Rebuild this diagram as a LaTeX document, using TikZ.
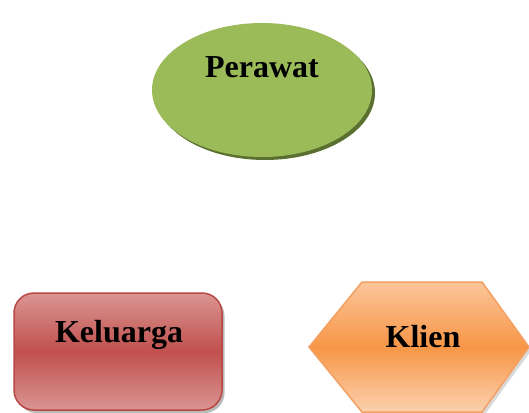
\documentclass[tikz,border=0pt]{standalone}
\usepackage{fontspec}
\setmainfont{Liberation Serif}
\usetikzlibrary{shapes.geometric,shadows}
\definecolor{grn}{HTML}{9BBB59}
\definecolor{grnshadow}{HTML}{5A7030}
\definecolor{redmid}{HTML}{C0504D}
\definecolor{redlight}{HTML}{DA9593}
\definecolor{redborder}{HTML}{B94744}
\definecolor{orgmid}{HTML}{F79646}
\definecolor{orglight}{HTML}{FBC59A}
\definecolor{orgborder}{HTML}{F2A063}
\begin{document}
\begin{tikzpicture}[x=1pt,y=-1pt,
  lbl/.style={font=\fontsize{32}{34}\selectfont\bfseries, text=black, inner sep=0pt},
  ellshape/.style={ellipse, fill=grn, draw=none, minimum width=220pt, minimum height=134pt, inner sep=0pt},
  boxshape/.style={rounded corners=20pt, top color=redlight, bottom color=redlight, middle color=redmid, draw=redborder, line width=1.5pt,
     drop shadow={shadow xshift=2.5pt, shadow yshift=-3pt, opacity=0.45, fill=black!60}},
  hexshape/.style={top color=orglight, bottom color=orglight!80!white, middle color=orgmid, draw=orgborder, line width=1.5pt, line join=miter,
     drop shadow={shadow xshift=2.5pt, shadow yshift=-3pt, opacity=0.3, fill=black!50}}
]
\useasboundingbox (0,0) rectangle (529,412);
% Perawat ellipse with its shadow
\node[ellshape, fill=grnshadow] (perawatshadow) at (265,93) {};
\node[ellshape] (perawat) at (262,90) {};
\node[lbl] (perawattext) at (262,67) {Perawat};
% Keluarga box
\draw[boxshape] (14,293) rectangle (222,410);
\node[lbl] (keluarga) at (119,335) {Keluarga};
% Klien hexagon
\coordinate (hl) at (309,347);
\coordinate (htl) at (362,282);
\coordinate (htr) at (482,282);
\coordinate (hr) at (529,347);
\coordinate (hbr) at (482,412);
\coordinate (hbl) at (362,412);
\draw[hexshape] (hl) -- (htl) -- (htr) -- (hr) -- (hbr) -- (hbl) -- cycle;
\node[lbl] (klien) at (423,337) {Klien};
\end{tikzpicture}
\end{document}
